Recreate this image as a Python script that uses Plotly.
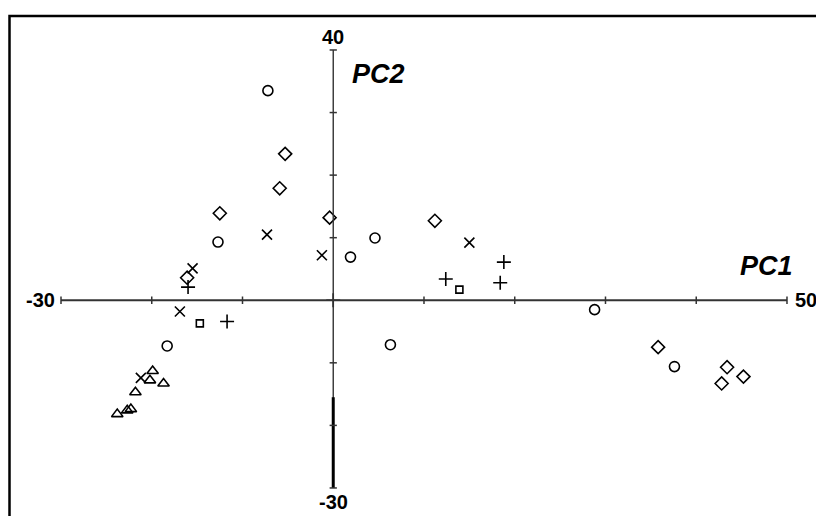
import plotly.graph_objects as go

# PCA scores, one list pair per group
circle_x = [-7.2, -12.7, 4.6, 1.9, 6.3, -18.3, 28.8, 37.6]
circle_y = [33.5, 9.3, 9.95, 6.9, -7.1, -7.3, -1.5, -10.6]

diamond_x = [-5.3, -5.9, -12.5, -0.4, 11.2, -16.1, 35.8, 43.4, 45.2, 42.8]
diamond_y = [23.4, 17.9, 13.9, 13.2, 12.7, 3.6, -7.5, -10.7, -12.2, -13.3]

cross_x = [-7.3, -1.25, 15.0, -15.5, -16.9, -21.2]
cross_y = [10.5, 7.2, 9.2, 5.1, -1.8, -12.4]

plus_x = [18.8, 12.4, 18.4, -16.0, -11.7, 0.0]
plus_y = [6.1, 3.4, 2.8, 2.1, -3.4, 0.0]

square_x = [13.9, -14.7]
square_y = [1.7, -3.7]

triangle_x = [-19.9, -20.2, -18.7, -21.8, -22.3, -22.7, -23.8]
triangle_y = [-11.3, -12.8, -13.3, -14.7, -17.4, -17.6, -18.2]

# axis extents and ticks
x_ticks = [-30, -20, -10, 0, 10, 20, 30, 40, 50]
y_ticks = [-30, -20, -10, 0, 10, 20, 30, 40]
x_min, x_max = -30, 50
y_min, y_max = -30, 40
bold_seg = [-15.5, -30]   # thicker stretch of the PC2 axis

fig = go.Figure()

groups = [
    (circle_x, circle_y, 'circle-open', 10),
    (diamond_x, diamond_y, 'diamond-open', 10),
    (cross_x, cross_y, 'x-thin-open', 10),
    (plus_x, plus_y, 'cross-thin-open', 10),
    (square_x, square_y, 'square-open', 7),
    (triangle_x, triangle_y, 'triangle-up-open', 10),
]
for gx, gy, sym, sz in groups:
    fig.add_trace(go.Scatter(x=gx, y=gy, mode='markers',
                             marker=dict(symbol=sym, size=sz, color='black',
                                         line=dict(color='black', width=1.6)),
                             showlegend=False, hoverinfo='skip'))

# axes through the origin
ax_col = '#333333'
shapes = [
    dict(type='line', x0=x_min, x1=x_max, y0=0, y1=0, line=dict(color=ax_col, width=2.2)),
    dict(type='line', x0=0, x1=0, y0=y_min, y1=y_max, line=dict(color=ax_col, width=1.4)),
    dict(type='line', x0=0, x1=0, y0=bold_seg[0], y1=bold_seg[1], line=dict(color='black', width=3)),
    # frame round the panel, cut off right and bottom
    dict(type='rect', xref='paper', yref='paper', x0=1.5 / 824, x1=1.03,
         y0=-0.03, y1=1 - 8 / 516, line=dict(color='black', width=2.5)),
]
for t in x_ticks:
    if t != 0:
        shapes.append(dict(type='line', x0=t, x1=t, y0=-0.6, y1=0.6,
                           line=dict(color=ax_col, width=1.5)))
for t in y_ticks:
    if t != 0:
        shapes.append(dict(type='line', x0=-0.4, x1=0.4, y0=t, y1=t,
                           line=dict(color=ax_col, width=1.5)))
fig.update_layout(shapes=shapes)

lab = dict(family='Liberation Sans, Arial', size=20, color='black')
big = dict(family='Liberation Sans, Arial', size=27, color='black')
fig.add_annotation(x=0, y=y_max, text='<b>40</b>', showarrow=False, font=lab,
                   yanchor='bottom', yshift=0)
fig.add_annotation(x=0, y=y_min, text='<b>-30</b>', showarrow=False, font=lab,
                   yanchor='top', yshift=-1)
fig.add_annotation(x=x_min, y=0, text='<b>-30</b>', showarrow=False, font=lab,
                   xanchor='right', xshift=-4)
fig.add_annotation(x=x_max, y=0, text='<b>50</b>', showarrow=False, font=lab,
                   xanchor='left', xshift=6)
fig.add_annotation(x=1.9, y=y_max - 3.9, text='<b><i>PC2</i></b>', showarrow=False,
                   font=big, xanchor='left')
fig.add_annotation(x=x_max + 0.9, y=5.5, text='<b><i>PC1</i></b>', showarrow=False,
                   font=big, xanchor='right')

# ranges offset to allow for the page's 8px body margin
fig.update_xaxes(range=[-35.84, 54.96], visible=False, showgrid=False, zeroline=False)
fig.update_yaxes(range=[-35.76, 46.71], visible=False, showgrid=False, zeroline=False)
fig.update_layout(width=824, height=516, margin=dict(l=0, r=0, t=0, b=0),
                  plot_bgcolor='white', paper_bgcolor='white')

fig.write_html("out.html")
